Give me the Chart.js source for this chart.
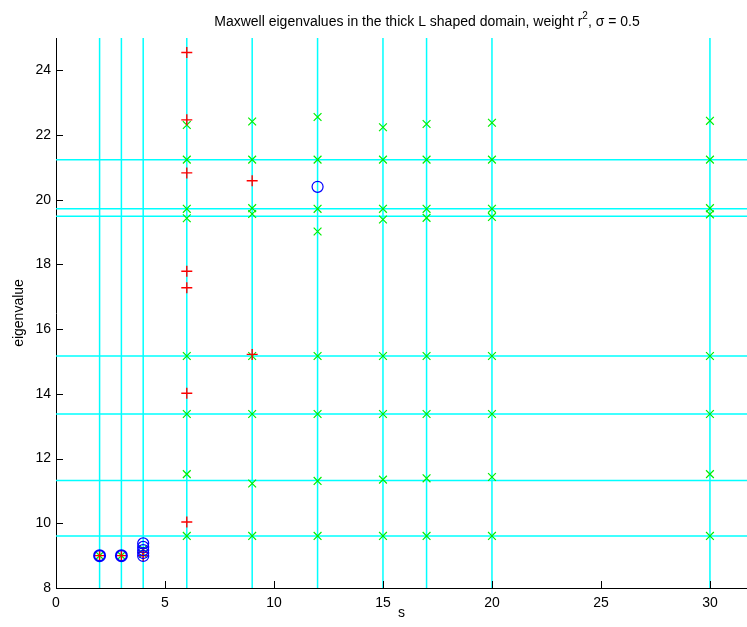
<!DOCTYPE html>
<html>
<head>
<meta charset="utf-8">
<script src="https://cdn.jsdelivr.net/npm/chart.js@4/dist/chart.umd.min.js"></script>
<style>
  html, body { margin: 0; padding: 0; background: #fff; overflow: hidden; }
  canvas { display: block; }
</style>
</head>
<body>
<canvas id="chart" width="747" height="627"></canvas>
<script>
// linhas de referencia (ciano)
const sLines = [2, 3, 4, 6, 9, 12, 15, 17, 20, 30]
const eigLines = [9.61, 11.32, 13.38, 15.17, 19.49, 19.72, 21.24]

// marcadores vermelhos (+)
const redS = [2, 3, 4, 4, 6, 6, 6, 6, 6, 6, 6, 9, 9]
const redE = [9.0, 9.0, 9.0, 9.1, 24.55, 22.47, 20.83, 17.79, 17.28, 14.02, 10.04, 20.59, 15.22]

// marcadores verdes (x)
const greenS = [2, 3, 4, 4,
  6, 6, 6, 6, 6, 6, 6, 6,
  9, 9, 9, 9, 9, 9, 9, 9,
  12, 12, 12, 12, 12, 12, 12, 12,
  15, 15, 15, 15, 15, 15, 15, 15,
  17, 17, 17, 17, 17, 17, 17, 17,
  20, 20, 20, 20, 20, 20, 20, 20,
  30, 30, 30, 30, 30, 30, 30, 30]
const greenE = [9.0, 9.0, 9.05, 9.2,
  22.31, 21.24, 19.72, 19.43, 15.17, 13.38, 11.52, 9.61,
  22.42, 21.24, 19.74, 19.56, 15.17, 13.38, 11.23, 9.61,
  22.56, 21.24, 19.72, 19.02, 15.17, 13.38, 11.31, 9.61,
  22.24, 21.24, 19.72, 19.39, 15.17, 13.38, 11.35, 9.61,
  22.34, 21.24, 19.72, 19.44, 15.17, 13.38, 11.39, 9.61,
  22.38, 21.24, 19.72, 19.47, 15.17, 13.38, 11.43, 9.61,
  22.44, 21.24, 19.74, 19.55, 15.17, 13.38, 11.52, 9.61]

// marcadores azuis (o)
const blueS = [2, 3, 4, 4, 4, 4, 4, 12]
const blueE = [9.0, 9.0, 8.99, 9.08, 9.17, 9.27, 9.38, 20.40]

// eixos
const xMin = 0, xMax = 31.7
const yMin = 8, yMax = 25

const fonte = "'Liberation Sans', Arial, Helvetica, sans-serif"

function pontos(xs, ys) {
  return xs.map((x, i) => ({ x: x, y: ys[i] }))
}

let datasets = []

datasets.push({
  data: pontos(blueS, blueE),
  pointStyle: 'circle', pointRadius: 5.5,
  borderColor: '#0000ff', backgroundColor: 'rgba(0,0,0,0)',
  // os circulos em s=2 e s=3 aparecem mais grossos (sobrepostos)
  borderWidth: c => (c.raw && c.raw.x < 3.5) ? 2 : 1.2,
  showLine: false, order: 0
})
datasets.push({
  data: pontos(redS, redE),
  pointStyle: 'cross', pointRadius: 5.5,
  borderColor: '#ff0000', backgroundColor: '#ff0000',
  borderWidth: 1.4, showLine: false, order: 1
})
datasets.push({
  data: pontos(greenS, greenE),
  pointStyle: 'crossRot', pointRadius: 5.5,
  borderColor: '#00ee00', backgroundColor: '#00ee00',
  borderWidth: 1.2, showLine: false, order: 2
})

// linhas verticais e horizontais
for (let s of sLines) {
  datasets.push({
    data: [{ x: s, y: yMin }, { x: s, y: yMax }],
    showLine: true, borderColor: '#00ffff', borderWidth: 1.5,
    pointRadius: 0, order: 10
  })
}
for (let e of eigLines) {
  datasets.push({
    data: [{ x: xMin, y: e }, { x: xMax, y: e }],
    showLine: true, borderColor: '#00ffff', borderWidth: 1.5,
    pointRadius: 0, order: 10
  })
}

// ticks para dentro (estilo matlab) e titulo com expoente
const extras = {
  id: 'extras',
  afterDraw(chart) {
    const ctx = chart.ctx
    const xs = chart.scales.x, ys = chart.scales.y
    const a = chart.chartArea
    ctx.save()
    ctx.strokeStyle = '#000'
    ctx.lineWidth = 1
    ctx.beginPath()
    xs.ticks.forEach(t => {
      const px = Math.round(xs.getPixelForValue(t.value)) + 0.5
      ctx.moveTo(px, a.bottom)
      ctx.lineTo(px, a.bottom - 7)
    })
    ys.ticks.forEach(t => {
      const py = Math.round(ys.getPixelForValue(t.value)) + 0.5
      ctx.moveTo(a.left, py)
      ctx.lineTo(a.left + 7, py)
    })
    ctx.stroke()

    // titulo
    const p1 = 'Maxwell eigenvalues in the thick L shaped domain, weight r'
    const p2 = '2'
    const p3 = ', \u03c3 = 0.5'
    ctx.fillStyle = '#000'
    ctx.textBaseline = 'alphabetic'
    ctx.font = '14px ' + fonte
    const w1 = ctx.measureText(p1).width
    const w3 = ctx.measureText(p3).width
    ctx.font = '10px ' + fonte
    const w2 = ctx.measureText(p2).width
    const total = w1 + w2 + w3
    let x = 427 - total / 2
    const base = 26
    ctx.font = '14px ' + fonte
    ctx.fillText(p1, x, base)
    ctx.font = '10px ' + fonte
    ctx.fillText(p2, x + w1, base - 7)
    ctx.font = '14px ' + fonte
    ctx.fillText(p3, x + w1 + w2, base)
    ctx.restore()
  }
}

new Chart('chart', {
  type: 'scatter',
  data: { datasets: datasets },
  options: {
    responsive: false,
    animation: false,
    layout: { autoPadding: false, padding: { top: 38, left: 0, right: 0, bottom: 0 } },
    plugins: {
      legend: { display: false },
      tooltip: { enabled: false },
      title: { display: false }
    },
    scales: {
      x: {
        type: 'linear', min: xMin, max: xMax,
        afterFit: s => { s.height = 39; s.paddingRight = 0; s.paddingLeft = 0 },
        ticks: {
          stepSize: 5, includeBounds: false, padding: 7,
          color: '#000', font: { family: fonte, size: 14 }, maxRotation: 0
        },
        grid: { display: false, drawTicks: false },
        border: { display: true, color: '#000', width: 1 },
        title: {
          display: true, text: 's', color: '#000',
          font: { family: fonte, size: 14 }, padding: { top: 0, bottom: 5 }
        }
      },
      y: {
        type: 'linear', min: yMin, max: yMax,
        afterFit: s => { s.width = 56; s.paddingTop = 0; s.paddingBottom = 0 },
        ticks: {
          stepSize: 2, includeBounds: false, padding: 5,
          color: '#000', font: { family: fonte, size: 14 }
        },
        grid: { display: false, drawTicks: false },
        border: { display: true, color: '#000', width: 1 },
        title: {
          display: true, text: 'eigenvalue', color: '#000',
          font: { family: fonte, size: 14 }, padding: { top: 11, bottom: 0 }
        }
      }
    }
  },
  plugins: [extras]
})
</script>
</body>
</html>
